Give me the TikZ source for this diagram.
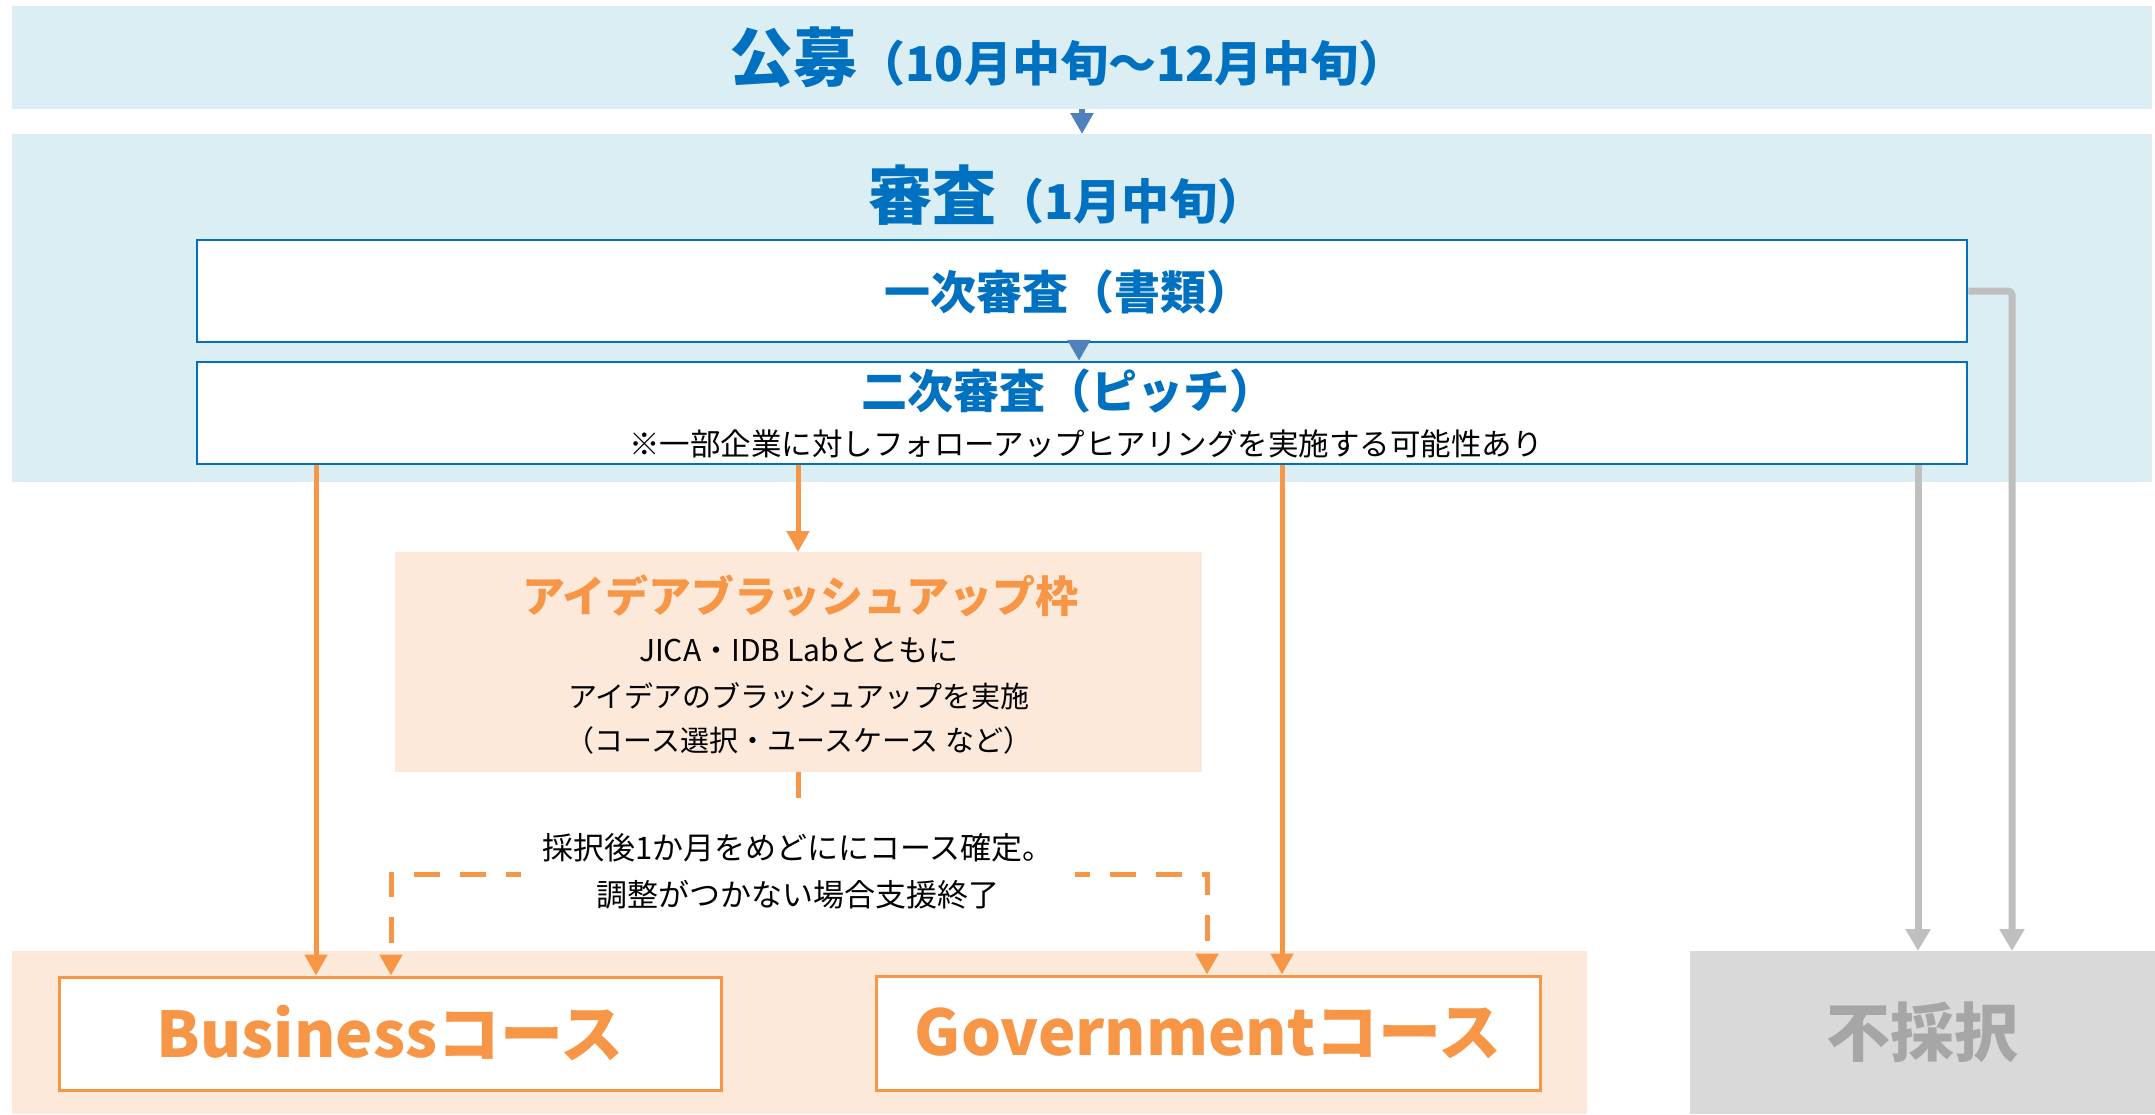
\documentclass[tikz,border=0pt]{standalone}
\usepackage{fontspec}
\setmainfont{Noto Sans CJK JP}
\usetikzlibrary{arrows.meta}
\definecolor{bandblue}{HTML}{DAEEF3}
\definecolor{titleblue}{HTML}{0070C0}
\definecolor{arrowblue}{HTML}{4F81BD}
\definecolor{orangeline}{HTML}{F79646}
\definecolor{orangefill}{HTML}{FDE9D9}
\definecolor{grayfill}{HTML}{D9D9D9}
\definecolor{grayline}{HTML}{BFBFBF}
\definecolor{graytext}{HTML}{A6A6A6}
\newcommand\setfs[1]{\fontsize{#1pt}{#1pt}\selectfont}
\begin{document}
\begin{tikzpicture}[x=1pt,y=-1pt,
  band/.style={fill=#1, draw=none, inner sep=0pt, outer sep=0pt},
  sbox/.style={draw=titleblue, line width=2.5pt, fill=white, inner sep=0pt},
  obox/.style={draw=orangeline, line width=3pt, fill=white, inner sep=0pt, text=orangeline, font=\bfseries},
  titletext/.style={text=titleblue, font=\bfseries, inner sep=0pt},
  bodytext/.style={text=black, inner sep=0pt},
  orangetext/.style={text=orangeline, font=\bfseries, inner sep=0pt},
  bluearrow/.style={draw=arrowblue, line width=6pt, -{Triangle[length=21pt,width=22pt]}},
  orangearrow/.style={draw=orangeline, line width=5pt, -{Triangle[length=21pt,width=22pt]}},
  dasharrow/.style={orangearrow, dash pattern=on 26pt off 20pt},
  grayarrow/.style={draw=grayline, line width=7pt, rounded corners=4pt, -{Triangle[length=22pt,width=24pt]}},
  decide/.style={fill=white, inner sep=0pt, align=center, text=black}
]
\useasboundingbox (0,0) rectangle (2155,1114);

% bands
\node[band=bandblue, minimum width=2140pt, minimum height=103pt] (kouboband) at (1082,57.5) {};
\node[titletext] (koubo) at (1068,57) {\setfs{64}公募\setfs{48}（10月中旬～12月中旬）};

\node[band=bandblue, minimum width=2140pt, minimum height=348pt] (shinsaband) at (1082,308) {};
\node[titletext] (shinsa) at (1067,195) {\setfs{64}審査\setfs{48}（1月中旬）};

\node[sbox, minimum width=1770pt, minimum height=102pt] (first) at (1082,291) {};
\node[titletext] (firstlabel) at (1068,292) {\setfs{46}一次審査（書類）};

\node[sbox, minimum width=1770pt, minimum height=102pt] (second) at (1082,413) {};
\node[titletext] (secondlabel) at (1068,391) {\setfs{46}二次審査（ピッチ）};
\node[bodytext] (note) at (1086,444) {\setfs{30.5}※一部企業に対しフォローアップヒアリングを実施する可能性あり};

% idea box
\node[band=orangefill, minimum width=807pt, minimum height=220pt] (idea) at (798.5,662) {};
\node[orangetext] (ideatitle) at (800,596) {\setfs{43}アイデアブラッシュアップ枠};
\node[bodytext] (idea1) at (799,650) {\setfs{30}JICA・IDB Labとともに};
\node[bodytext] (idea2) at (799,696) {\setfs{29}アイデアのブラッシュアップを実施};
\node[bodytext] (idea3) at (799,740) {\setfs{29}（コース選択・ユースケース など）};

% bottom
\node[band=orangefill, minimum width=1575pt, minimum height=163pt] (courseband) at (799.5,1032.5) {};
\node[obox, minimum width=662pt, minimum height=113pt] (business) at (390,1033.5) {\setfs{63}Businessコース};
\node[obox, minimum width=664pt, minimum height=114pt] (government) at (1208,1033) {\setfs{63}Governmentコース};
\node[band=grayfill, minimum width=465pt, minimum height=163pt, text=graytext, font=\bfseries] (reject) at (1922.5,1032.5) {\setfs{64}不採択};

% helper coordinates
\coordinate (xa) at (316,0);
\coordinate (xb) at (798,0);
\coordinate (xc) at (1282,0);
\coordinate (xd) at (1918,0);
\coordinate (xe) at (2012,0);
\coordinate (dl) at (391,874);
\coordinate (dr) at (1207,874);

% connectors
\draw[bluearrow] (kouboband.south) -- (shinsaband.north);
\draw[bluearrow] ([xshift=-3pt]first.south) -- ([xshift=-3pt]second.north);

\draw[orangearrow] (xa |- second.south) -- (xa |- business.north);
\draw[orangearrow] (xb |- second.south) -- (xb |- idea.north);
\draw[orangearrow] (xc |- second.south) -- (xc |- government.north);
\draw[dasharrow] (xb |- idea.south) |- (dl) -- (dl |- business.north);
\draw[dasharrow] (xb |- idea.south) |- (dr) -- (dr |- government.north);
\node[decide, minimum width=554pt, minimum height=140pt, font=\fontsize{31pt}{47pt}\selectfont] (decidetext) at (798,871) {採択後1か月をめどににコース確定。\\調整がつかない場合支援終了};

\draw[grayarrow] (first.east) -| (xe |- reject.north);
\draw[grayarrow] (xd |- second.south) -- (xd |- reject.north);
\end{tikzpicture}
\end{document}
